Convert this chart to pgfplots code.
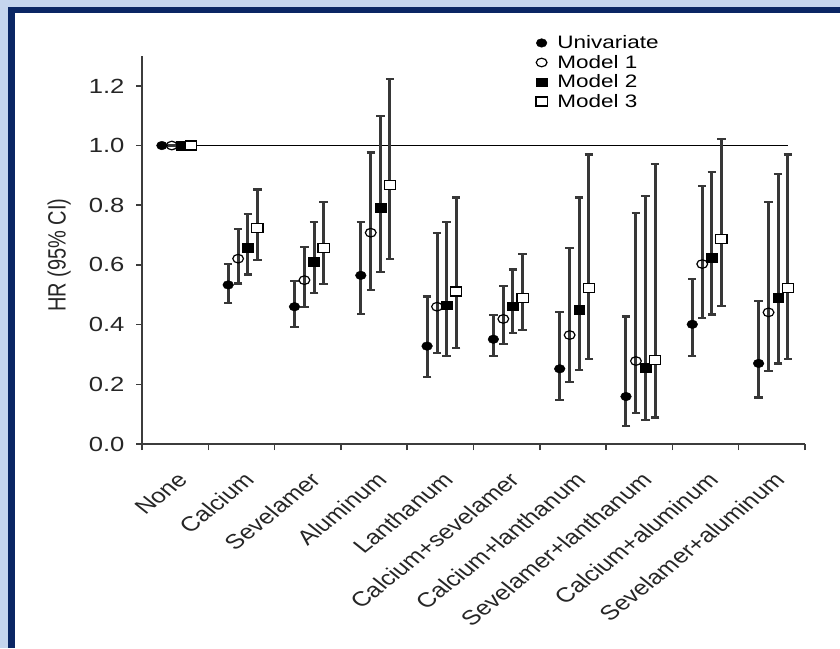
\documentclass[border=0pt]{standalone}
\usepackage{fontspec}
\setmainfont[FakeStretch=1.25]{Liberation Sans}
\newfontfamily\plainfont{Liberation Sans}
\usepackage{pgfplots}
\pgfplotsset{compat=1.18}
\definecolor{lightframe}{RGB}{197,213,238}
\definecolor{navyframe}{RGB}{10,38,100}
\definecolor{axisgray}{RGB}{60,60,60}
\definecolor{bargray}{RGB}{55,55,55}
\begin{document}
\begin{tikzpicture}[x=1pt,y=1pt]
\fill[white] (0,0) rectangle (840,648);
\fill[lightframe] (0,0) rectangle (8.3,648);
\fill[lightframe] (0,641.3) rectangle (840,648);
\fill[navyframe] (8.3,0) rectangle (15,641.3);
\fill[navyframe] (8.3,635.3) rectangle (840,641.3);
\begin{axis}[
  scale only axis, width=663pt, height=388pt,
  at={(142pt,204pt)}, anchor=south west,
  xmin=-0.5, xmax=9.5, ymin=0, ymax=1.3,
  axis lines*=left,
  axis line style={line width=1.8pt, color=axisgray},
  tick align=outside,
  xtick={0,...,9},
  xticklabels={None,Calcium,Sevelamer,Aluminum,Lanthanum,Calcium+sevelamer,Calcium+lanthanum,Sevelamer+lanthanum,Calcium+aluminum,Sevelamer+aluminum},
  major x tick style={draw=none},
  minor xtick={-0.5,0.5,...,9.5},
  minor tick length=6pt,
  minor x tick style={line width=1.5pt, color=axisgray},
  ytick={0,0.2,0.4,0.6,0.8,1.0,1.2},
  major tick length=6pt,
  major y tick style={line width=1.5pt, color=axisgray},
  /pgf/number format/assume math mode=true,
  /pgf/number format/fixed,
  /pgf/number format/fixed zerofill,
  /pgf/number format/precision=1,
  yticklabel style={font=\fontsize{20.5}{22}\selectfont, color=black!85, xshift=-8pt},
  xticklabel style={font=\plainfont\fontsize{20.5}{22}\selectfont, color=black!85,
    cm={0.884,0.7071,-0.884,0.7071,(0,0)}, anchor=north east, inner sep=0pt, xshift=-14.3pt, yshift=-15.4pt},
  ylabel={HR (95\% CI)},
  ylabel style={font=\plainfont\fontsize{20}{22}\selectfont, yscale=1.25, at={(axis description cs:-0.125,0.487)}, anchor=center, color=black!85},
  legend style={at={(axis description cs:0.594,1.058)}, anchor=north west, draw=none, fill=none,
    font=\fontsize{18}{18}\selectfont, row sep=1pt, column sep=8pt, inner sep=0pt},
  legend cell align=left,
  clip=false,
  error bars/y dir=both, error bars/y explicit,
  error bars/error bar style={line width=3pt, color=bargray},
  error bars/error mark options={rotate=90, mark size=4.2pt, line width=2.2pt, color=bargray},
]
\addplot[draw=black, line width=1.8pt, forget plot] coordinates {(-0.2,1) (9.24,1)};
\addplot[only marks, mark=*, mark size=4.3pt, mark options={fill=black, draw=black, xscale=1.25}] coordinates {
(-0.2,1.0) +- (0,0)
(0.8,0.533) += (0,0.071) -= (0,0.060)
(1.8,0.460) += (0,0.087) -= (0,0.067)
(2.8,0.565) += (0,0.180) -= (0,0.129)
(3.8,0.328) += (0,0.166) -= (0,0.104)
(4.8,0.351) += (0,0.080) -= (0,0.055)
(5.8,0.252) += (0,0.190) -= (0,0.105)
(6.8,0.159) += (0,0.268) -= (0,0.099)
(7.8,0.401) += (0,0.153) -= (0,0.106)
(8.8,0.270) += (0,0.210) -= (0,0.114)
};
\addlegendentry{Univariate}
\addplot[only marks, mark=o, mark size=4.3pt, mark options={fill=white, draw=black, line width=1.2pt, xscale=1.25}] coordinates {
(-0.05,1.0) +- (0,0)
(0.95,0.621) += (0,0.099) -= (0,0.083)
(1.95,0.549) += (0,0.112) -= (0,0.091)
(2.95,0.708) += (0,0.269) -= (0,0.192)
(3.95,0.460) += (0,0.248) -= (0,0.156)
(4.95,0.419) += (0,0.110) -= (0,0.084)
(5.95,0.365) += (0,0.291) -= (0,0.156)
(6.95,0.278) += (0,0.497) -= (0,0.175)
(7.95,0.603) += (0,0.262) -= (0,0.180)
(8.95,0.441) += (0,0.369) -= (0,0.196)
};
\addlegendentry{Model 1}
\addplot[only marks, mark=square*, mark size=4.3pt, mark options={fill=black, draw=black, xscale=1.25}] coordinates {
(0.095,1.0) +- (0,0)
(1.095,0.658) += (0,0.112) -= (0,0.090)
(2.095,0.611) += (0,0.134) -= (0,0.106)
(3.095,0.792) += (0,0.307) -= (0,0.217)
(4.095,0.465) += (0,0.279) -= (0,0.170)
(5.095,0.462) += (0,0.123) -= (0,0.091)
(6.095,0.449) += (0,0.377) -= (0,0.201)
(7.095,0.256) += (0,0.575) -= (0,0.176)
(8.095,0.624) += (0,0.288) -= (0,0.190)
(9.095,0.490) += (0,0.415) -= (0,0.220)
};
\addlegendentry{Model 2}
\addplot[only marks, mark=square*, mark size=4.5pt, mark options={fill=white, draw=black, line width=1.2pt, xscale=1.25}] coordinates {
(0.24,1.0) +- (0,0)
(1.24,0.723) += (0,0.130) -= (0,0.107)
(2.24,0.656) += (0,0.154) -= (0,0.120)
(3.24,0.868) += (0,0.354) -= (0,0.248)
(4.24,0.511) += (0,0.315) -= (0,0.190)
(5.24,0.490) += (0,0.147) -= (0,0.108)
(6.24,0.524) += (0,0.446) -= (0,0.238)
(7.24,0.281) += (0,0.656) -= (0,0.192)
(8.24,0.686) += (0,0.336) -= (0,0.224)
(9.24,0.524) += (0,0.446) -= (0,0.238)
};
\addlegendentry{Model 3}
\end{axis}
\end{tikzpicture}
\end{document}
